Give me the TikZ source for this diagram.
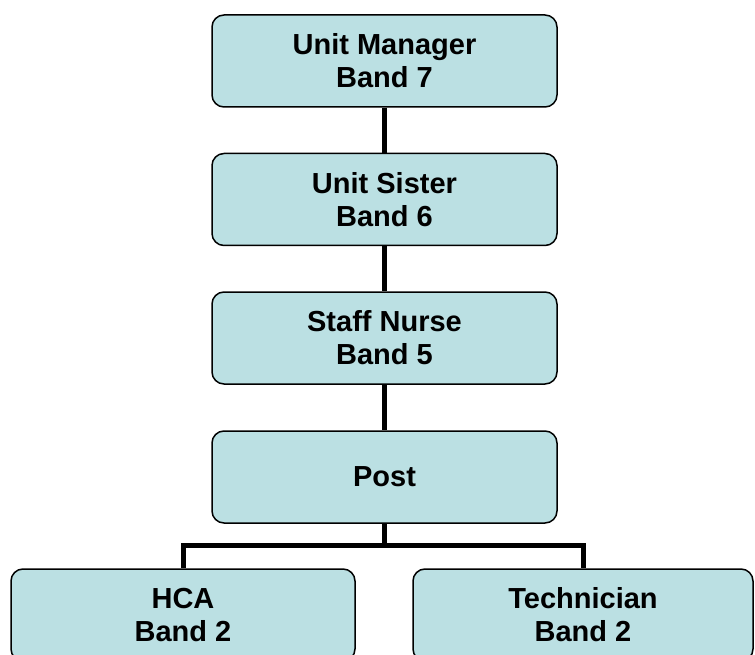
\documentclass[tikz,border=0pt]{standalone}
\usepackage{fontspec}
\setmainfont{Liberation Sans}
\usetikzlibrary{positioning}
\definecolor{boxfill}{RGB}{187,224,227}

\begin{document}
\begin{tikzpicture}[x=1pt, y=1pt]
    \tikzstyle{post}=[draw=black, line width=1.5pt, fill=boxfill, rounded corners=12pt, minimum width=345pt, minimum height=92pt, align=center, font=\fontsize{29}{33}\selectfont\bfseries]
    \tikzstyle{link}=[draw=black, line width=5pt]

    \useasboundingbox (0,0) rectangle (755,-655);

    % Draw the chain of posts
    \foreach \name / \y / \role / \band in {M/61/Unit Manager/7, S/199.5/Unit Sister/6, N/338/Staff Nurse/5}
    \node[post] (\name) at (384.5,-\y) {\role\\Band \band};

    \node[post] (P) at (384.5,-477) {Post};

    % Draw the two posts at the bottom
    \node[post, minimum width=344pt] (H) at (183,-615) {HCA\\Band 2};
    \node[post, minimum width=340pt] (T) at (583,-615) {Technician\\Band 2};

    % Connect each post with the one below it
    \foreach \source / \dest in {M/S, S/N, N/P}
    \path[link] (\source) -- (\dest);

    % Connect the post with both bottom posts
    \coordinate (bar) at (384.5,-545);
    \path[link] (P.south) -- (bar);
    \path[link] (H.north) |- (bar) -| (T.north);
\end{tikzpicture}
\end{document}
